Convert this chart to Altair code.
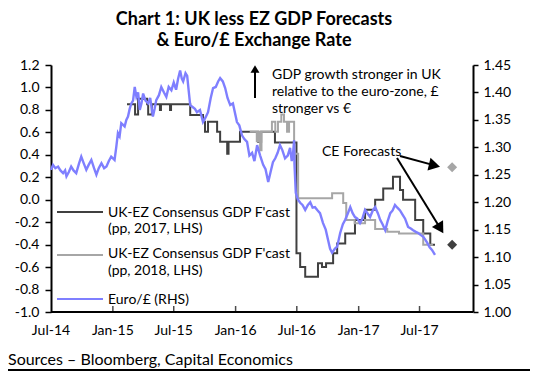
import altair as alt
import pandas as pd

# ---------------- data ----------------
eur_dates = [
    "2014-07-01", "2014-07-07", "2014-07-14", "2014-07-22", "2014-07-29", "2014-08-06", "2014-08-12",
    "2014-08-16", "2014-08-23", "2014-08-30", "2014-09-06", "2014-09-14", "2014-09-22", "2014-09-29",
    "2014-10-07", "2014-10-14", "2014-10-21", "2014-10-29", "2014-11-06", "2014-11-13", "2014-11-20",
    "2014-11-28", "2014-12-06", "2014-12-13", "2014-12-20", "2014-12-27", "2015-01-06", "2015-01-11",
    "2015-01-16", "2015-01-21", "2015-01-26", "2015-02-05", "2015-02-10", "2015-02-15", "2015-02-20",
    "2015-02-25", "2015-03-02", "2015-03-07", "2015-03-12", "2015-03-17", "2015-03-22", "2015-03-27",
    "2015-04-01", "2015-04-08", "2015-04-16", "2015-04-22", "2015-04-30", "2015-05-05", "2015-05-10",
    "2015-05-18", "2015-05-25", "2015-06-02", "2015-06-09", "2015-06-16", "2015-06-24", "2015-07-01",
    "2015-07-08", "2015-07-14", "2015-07-20", "2015-07-25", "2015-07-29", "2015-08-05", "2015-08-10",
    "2015-08-15", "2015-08-19", "2015-08-27", "2015-09-02", "2015-09-08", "2015-09-17", "2015-09-26",
    "2015-10-04", "2015-10-11", "2015-10-19", "2015-10-26", "2015-11-03", "2015-11-10", "2015-11-16",
    "2015-11-24", "2015-12-01", "2015-12-08", "2015-12-16", "2015-12-24", "2016-01-05", "2016-01-12",
    "2016-01-20", "2016-01-27", "2016-02-04", "2016-02-11", "2016-02-19", "2016-02-26", "2016-03-05",
    "2016-03-14", "2016-03-23", "2016-03-30", "2016-04-07", "2016-04-14", "2016-04-21", "2016-04-28",
    "2016-05-05", "2016-05-12", "2016-05-19", "2016-05-27", "2016-06-04", "2016-06-11", "2016-06-16",
    "2016-06-20", "2016-06-23", "2016-06-24", "2016-06-28", "2016-07-04", "2016-07-11", "2016-07-18",
    "2016-07-26", "2016-08-03", "2016-08-10", "2016-08-17", "2016-08-24", "2016-09-01", "2016-09-08",
    "2016-09-17", "2016-09-25", "2016-10-02", "2016-10-08", "2016-10-14", "2016-10-22", "2016-10-29",
    "2016-11-07", "2016-11-15", "2016-11-22", "2016-11-30", "2016-12-07", "2016-12-14", "2016-12-21",
    "2016-12-28", "2017-01-05", "2017-01-12", "2017-01-20", "2017-01-27", "2017-02-04", "2017-02-12",
    "2017-02-19", "2017-02-27", "2017-03-06", "2017-03-13", "2017-03-21", "2017-03-28", "2017-04-05",
    "2017-04-12", "2017-04-19", "2017-04-26", "2017-05-04", "2017-05-11", "2017-05-19", "2017-05-28",
    "2017-06-05", "2017-06-12", "2017-06-20", "2017-06-27", "2017-07-05", "2017-07-12", "2017-07-18",
    "2017-07-24", "2017-07-31", "2017-08-07", "2017-08-16",
]
eur_values = [
    1.259, 1.268, 1.262, 1.265, 1.258, 1.253, 1.258,
    1.247, 1.255, 1.265, 1.258, 1.253, 1.270, 1.283,
    1.270, 1.259, 1.268, 1.277, 1.262, 1.250, 1.262,
    1.271, 1.262, 1.265, 1.275, 1.283, 1.277, 1.300,
    1.326, 1.320, 1.344, 1.338, 1.350, 1.356, 1.370,
    1.380, 1.385, 1.410, 1.392, 1.400, 1.368, 1.380,
    1.398, 1.385, 1.380, 1.390, 1.356, 1.370, 1.386,
    1.395, 1.410, 1.400, 1.392, 1.410, 1.404, 1.418,
    1.405, 1.425, 1.440, 1.425, 1.420, 1.435, 1.430,
    1.400, 1.377, 1.373, 1.370, 1.364, 1.368, 1.346,
    1.355, 1.364, 1.390, 1.408, 1.410, 1.420, 1.426,
    1.420, 1.408, 1.390, 1.377, 1.380, 1.346, 1.340,
    1.322, 1.315, 1.310, 1.285, 1.290, 1.275, 1.304,
    1.285, 1.268, 1.260, 1.237, 1.255, 1.273, 1.280,
    1.290, 1.304, 1.295, 1.280, 1.285, 1.299, 1.275,
    1.290, 1.313, 1.270, 1.217, 1.205, 1.199, 1.195,
    1.186, 1.195, 1.200, 1.190, 1.191, 1.185, 1.180,
    1.162, 1.150, 1.131, 1.115, 1.108, 1.115, 1.119,
    1.144, 1.160, 1.168, 1.180, 1.191, 1.180, 1.173,
    1.170, 1.162, 1.170, 1.186, 1.180, 1.173, 1.185,
    1.191, 1.180, 1.168, 1.160, 1.149, 1.165, 1.180,
    1.185, 1.195, 1.190, 1.185, 1.178, 1.170, 1.155,
    1.152, 1.149, 1.146, 1.144, 1.140, 1.137, 1.132,
    1.126, 1.118, 1.113, 1.104,
]

f17_dates = [
    "2015-02-12", "2015-03-08", "2015-03-17", "2015-04-13", "2015-04-16", "2015-04-27", "2015-05-21",
    "2015-05-24", "2015-06-20", "2015-06-23", "2015-08-19", "2015-09-26", "2015-10-02", "2015-10-11",
    "2015-11-07", "2015-11-16", "2015-12-07", "2015-12-11", "2016-01-14", "2016-03-08", "2016-03-17",
    "2016-04-27", "2016-06-30", "2016-07-11", "2016-07-26", "2016-09-02", "2016-09-14", "2016-09-26",
    "2016-10-17", "2016-10-29", "2016-11-22", "2016-12-21", "2017-01-20", "2017-02-19", "2017-03-15",
    "2017-04-13", "2017-05-04", "2017-05-13", "2017-06-18", "2017-07-12", "2017-08-02", "2017-08-16",
]
f17_values = [
    0.85, 0.76, 0.90, 0.85, 0.76, 0.85, 0.80,
    0.85, 0.80, 0.85, 0.755, 0.695, 0.606, 0.695,
    0.606, 0.517, 0.41, 0.517, 0.606, 0.517, 0.606,
    0.51, -0.477, -0.60, -0.685, -0.566, -0.60, -0.566,
    -0.477, -0.39, -0.30, -0.18, -0.09, 0.0, 0.10,
    0.205, 0.087, 0.0, -0.18, -0.30, -0.40, -0.40,
]

f18_dates = [
    "2016-02-12", "2016-03-04", "2016-03-08", "2016-03-14", "2016-03-18", "2016-04-18", "2016-04-28",
    "2016-05-06", "2016-05-16", "2016-05-24", "2016-06-02", "2016-06-08", "2016-06-23", "2016-07-05",
    "2016-10-14", "2016-11-16", "2016-11-25", "2016-12-20", "2017-01-20", "2017-02-19", "2017-03-27",
    "2017-05-01", "2017-07-12", "2017-08-10",
]
f18_values = [
    0.606, 0.52, 0.606, 0.44, 0.606, 0.695, 0.606,
    0.695, 0.76, 0.695, 0.606, 0.695, 0.41, 0.013,
    0.057, -0.03, -0.18, -0.21, -0.18, -0.26, -0.285,
    -0.30, -0.40, -0.40,
]

ce_dates = ["2017-10-06", "2017-10-06"]
ce_values = [0.29, -0.40]
ce_series = ["2018", "2017"]

x_label_dates = ["2014-07-01", "2015-01-01", "2015-07-01", "2016-01-01", "2016-07-01", "2017-01-01", "2017-07-01"]
x_labels = ["Jul-14", "Jan-15", "Jul-15", "Jan-16", "Jul-16", "Jan-17", "Jul-17"]
x_tick_dates = ["2015-01-01", "2015-07-01", "2016-01-01", "2016-07-01", "2017-01-01", "2017-07-01"]
x_domain = ["2014-07-01", "2017-12-07"]
lhs_ticks = [-1.0, -0.8, -0.6, -0.4, -0.2, 0.0, 0.2, 0.4, 0.6, 0.8, 1.0, 1.2]
rhs_ticks = [1.00, 1.05, 1.10, 1.15, 1.20, 1.25, 1.30, 1.35, 1.40, 1.45]

title_lines = ["Chart 1: UK less EZ GDP Forecasts", "& Euro/£ Exchange Rate"]
note_lines = ["GDP growth stronger in UK", "relative to the euro-zone, £", "stronger vs €"]
legend_lines = [["UK-EZ Consensus GDP F'cast", "(pp, 2017, LHS)"],
                ["UK-EZ Consensus GDP F'cast", "(pp, 2018, LHS)"],
                ["Euro/£ (RHS)"]]
source_text = "Sources – Bloomberg, Capital Economics"

# ---------------- styling ----------------
DARK = "#404040"
LIGHT = "#a6a6a6"
BLUE = "#7f7fff"
FONT = "Lato"


def ms(s):
    return int(pd.Timestamp(s, tz="UTC").value // 10**6)


xscale = alt.Scale(type="utc", domain=[ms(s) for s in x_domain])
lscale = alt.Scale(domain=[-1.0, 1.2], nice=False, zero=False)
rscale = alt.Scale(domain=[1.0, 1.45], nice=False, zero=False)

eur_df = pd.DataFrame({"date": eur_dates, "value": eur_values})
f17_df = pd.DataFrame({"date": f17_dates, "value": f17_values})
f18_df = pd.DataFrame({"date": f18_dates, "value": f18_values})
ce_df = pd.DataFrame({"date": ce_dates, "value": ce_values, "series": ce_series})
tick_df = pd.DataFrame({"date": x_tick_dates, "lo": [lhs_ticks[0]] * len(x_tick_dates)})
xlab_df = pd.DataFrame({"date": x_label_dates, "label": x_labels})

l_axis = alt.Axis(values=lhs_ticks,
                  labelExpr="datum.value < -0.001 ? '-' + format(-datum.value, '.1f') : format(abs(datum.value), '.1f')",
                  tickSize=6, tickWidth=1.5, tickColor="black", labelPadding=6, domainWidth=2,
                  domainColor="black", labelFont=FONT, labelFontSize=14, labelColor="black",
                  grid=False, title=None, orient="left")
r_axis = alt.Axis(values=rhs_ticks, format=".2f", tickSize=5, tickWidth=1.5, tickColor="black",
                  labelPadding=5, domainWidth=2, domainColor="black", labelFont=FONT, labelFontSize=14,
                  labelColor="black", grid=False, title=None, orient="right")

one = alt.InlineData(values=[{}])


def txt(s, x, y, size=14, weight="normal", align="left"):
    return alt.Chart(one).mark_text(text=s, font=FONT, fontSize=size, fontWeight=weight, align=align,
                                    baseline="alphabetic", color="black").encode(
        x=alt.value(x), y=alt.value(y))


def seg(x1, y1, x2, y2, color="black", w=2):
    return alt.Chart(one).mark_rule(color=color, strokeWidth=w).encode(
        x=alt.value(x1), y=alt.value(y1), x2=alt.value(x2), y2=alt.value(y2))


def head(x, y, angle, size):
    return alt.Chart(one).mark_point(shape="triangle-up", filled=True, color="black", size=size,
                                     angle=angle, opacity=1, strokeWidth=0).encode(
        x=alt.value(x), y=alt.value(y))


# ---------------- data layers (each left-axis layer has identical fixed scale) ----------------
l17 = alt.Chart(f17_df).mark_line(color=DARK, strokeWidth=2, interpolate="step-after").encode(
    x=alt.X("date:T", scale=xscale, axis=None),
    y=alt.Y("value:Q", scale=lscale, axis=l_axis),
)
l18 = alt.Chart(f18_df).mark_line(color=LIGHT, strokeWidth=2, interpolate="step-after").encode(
    x=alt.X("date:T", axis=None),
    y=alt.Y("value:Q", scale=lscale, axis=None),
)
ce = alt.Chart(ce_df).mark_point(shape="diamond", filled=True, size=100, opacity=1).encode(
    x=alt.X("date:T", axis=None),
    y=alt.Y("value:Q", scale=lscale, axis=None),
    color=alt.Color("series:N", scale=alt.Scale(domain=["2017", "2018"], range=[DARK, LIGHT]), legend=None),
)
xticks = alt.Chart(tick_df).mark_tick(color="black", thickness=1.5, size=6, orient="vertical", yOffset=-3).encode(
    x=alt.X("date:T", axis=None),
    y=alt.Y("lo:Q", scale=lscale, axis=None),
)
xlabels = alt.Chart(xlab_df).mark_text(font=FONT, fontSize=14, color="black", align="center",
                                       baseline="alphabetic").encode(
    x=alt.X("date:T", axis=None),
    y=alt.value(270),
    text="label:N",
)
blue = alt.Chart(eur_df).mark_line(color=BLUE, strokeWidth=2.4).encode(
    x=alt.X("date:T", axis=None),
    y=alt.Y("value:Q", scale=rscale, axis=r_axis),
)

annots = [
    # x axis line
    seg(0, 247, 422, 247, "black", 2),
    # title
    txt(title_lines[0], 203, -40, size=18, weight="bold", align="center"),
    txt(title_lines[1], 203, -19, size=18, weight="bold", align="center"),
    # up arrow note
    seg(204, 33, 204, 6),
    head(204, 4, 0, 80),
    txt(note_lines[0], 221, 14),
    txt(note_lines[1], 221, 31),
    txt(note_lines[2], 221, 48),
    # CE forecasts
    txt("CE Forecasts", 271, 91),
    seg(349, 91, 383.5, 100.4),
    head(383.5, 100.4, 103.4, 170),
    seg(346, 93, 389.4, 163.5),
    head(389.4, 163.5, 148.8, 170),
    # legend
    seg(6, 147, 52, 147, DARK, 2),
    txt(legend_lines[0][0], 57, 151.7),
    txt(legend_lines[0][1], 57, 168.3),
    seg(6, 190, 52, 190, LIGHT, 2),
    txt(legend_lines[1][0], 57, 193.3),
    txt(legend_lines[1][1], 57, 210),
    seg(6, 234, 52, 234, BLUE, 2),
    txt(legend_lines[2][0], 57, 239),
    # source + bottom rule
    txt(source_text, -43, 300, size=16),
    seg(-43, 305, 479, 305, "black", 2),
]

chart = alt.layer(l17, l18, ce, xticks, xlabels, *annots, blue).resolve_scale(y="independent").properties(
    width=422, height=247,
    padding={"left": 43, "top": 57, "right": 57, "bottom": 59},
    autosize=alt.AutoSizeParams(type="none"),
).configure_view(stroke=None)

chart.save("out.html", embed_options={"renderer": "svg", "actions": False})
